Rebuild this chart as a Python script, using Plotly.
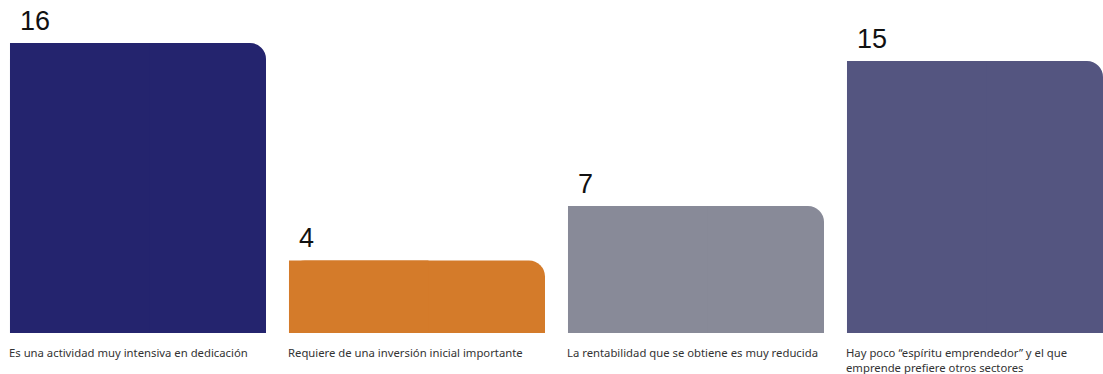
import plotly.graph_objects as go

categories = [
    "Es una actividad muy intensiva en dedicación",
    "Requiere de una inversión inicial importante",
    "La rentabilidad que se obtiene es muy reducida",
    "Hay poco “espíritu emprendedor” y el que<br>emprende prefiere otros sectores",
]
values = [16, 4, 7, 15]
colors = ["#24246e", "#d47b2a", "#888a98", "#545580"]

xpos = list(range(len(values)))
W = 0.9176
OFF = -W / 2

fig = go.Figure()
fig.add_trace(go.Bar(
    x=xpos, y=values, width=[W] * 4, offset=[OFF] * 4,
    marker=dict(color=colors, cornerradius=16, line=dict(width=0)),
    hoverinfo="skip", showlegend=False,
))
fig.add_trace(go.Bar(
    x=xpos, y=values, width=[0.5] * 4, offset=[OFF] * 4,
    marker=dict(color=colors, cornerradius=0, line=dict(width=0)),
    hoverinfo="skip", showlegend=False,
))

for i, (c, v) in enumerate(zip(categories, values)):
    fig.add_annotation(
        x=i + OFF, y=v, xref="x", yref="y", text=str(v),
        showarrow=False, xanchor="left", yanchor="bottom",
        xshift=8, yshift=5,
        font=dict(family="Liberation Sans, Arial", size=27, color="#111111"),
    )
    fig.add_annotation(
        x=i + OFF, y=0, xref="x", yref="y", text=c,
        showarrow=False, xanchor="left", yanchor="top", align="left",
        xshift=-3, yshift=-10,
        font=dict(family="Noto Sans, Open Sans", size=11.3, color="#333333"),
    )

fig.update_layout(
    width=1103, height=374,
    margin=dict(l=0, r=0, t=0, b=41),
    paper_bgcolor="white", plot_bgcolor="white",
    barmode="overlay",
    xaxis=dict(range=[-0.4946, 3.4588], visible=False, fixedrange=True),
    yaxis=dict(range=[0, 18.37], visible=False, fixedrange=True),
)

fig.write_html("out.html")
